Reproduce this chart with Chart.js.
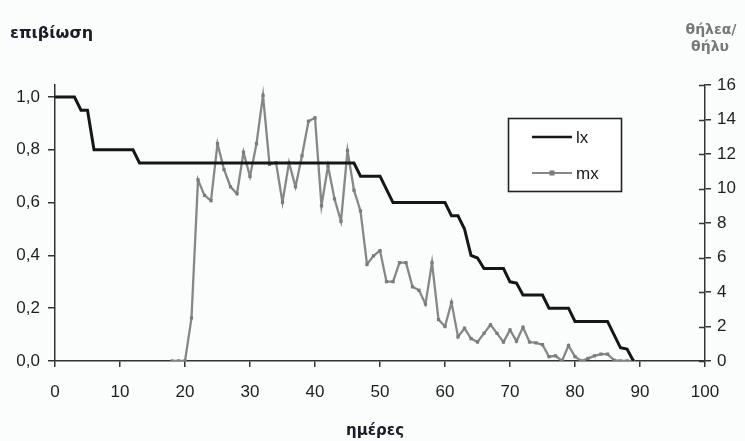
<!DOCTYPE html>
<html>
<head>
<meta charset="utf-8">
<script src="https://cdn.jsdelivr.net/npm/chart.js@4.4.1/dist/chart.umd.min.js"></script>
<style>
html,body{margin:0;padding:0;background:#fbfcfc;}
#wrap{position:relative;width:745px;height:441px;}
canvas{display:block;}
</style>
</head>
<body>
<div id="wrap"><canvas id="c" width="745" height="441"></canvas></div>
<script>
// ---- data ----
const lxDays = [0,1,2,3,4,5,6,7,8,9,10,11,12,13,14,15,16,17,18,19,20,21,22,23,24,25,26,27,28,29,30,31,32,33,34,35,36,37,38,39,40,41,42,43,44,45,46,47,48,49,50,51,52,53,54,55,56,57,58,59,60,61,62,63,64,65,66,67,68,69,70,71,72,73,74,75,76,77,78,79,80,81,82,83,84,85,86,87,88,89];
const lxValues = [1,1,1,1,0.95,0.95,0.8,0.8,0.8,0.8,0.8,0.8,0.8,
  0.75,0.75,0.75,0.75,0.75,0.75,0.75,0.75,0.75,0.75,0.75,0.75,0.75,0.75,0.75,0.75,0.75,0.75,0.75,0.75,0.75,0.75,0.75,0.75,0.75,0.75,0.75,0.75,0.75,0.75,0.75,0.75,0.75,0.75,
  0.7,0.7,0.7,0.7,0.65,0.6,0.6,0.6,0.6,0.6,0.6,0.6,0.6,0.6,0.55,0.55,0.5,0.4,0.39,0.35,0.35,0.35,0.35,0.3,0.295,0.25,0.25,0.25,0.25,0.2,0.2,0.2,0.2,0.15,0.15,0.15,0.15,0.15,0.15,0.1,0.05,0.045,0];
const mxDays = [18,19,20,21,22,23,24,25,26,27,28,29,30,31,32,33,34,35,36,37,38,39,40,41,42,43,44,45,46,47,48,49,50,51,52,53,54,55,56,57,58,59,60,61,62,63,64,65,66,67,68,69,70,71,72,73,74,75,76,77,78,79,80,81,82,83,84,85,86,87,88,89];
const mxValues = [0,0,0,2.5,10.5,9.6,9.3,12.6,11.1,10.1,9.7,12.1,10.7,12.6,15.4,11.4,11.5,9.2,11.5,10.1,11.9,13.9,14.1,9.0,11.3,9.4,8.1,12.2,9.9,8.7,5.6,6.1,6.4,4.6,4.6,5.7,5.7,4.3,4.1,3.3,5.7,2.4,2.0,3.4,1.4,1.9,1.3,1.1,1.6,2.1,1.6,1.1,1.8,1.15,1.95,1.1,1.05,0.95,0.25,0.3,0,0.9,0.25,0,0.15,0.3,0.4,0.4,0.05,0,0,0];
const leftTicks = [0,0.2,0.4,0.6,0.8,1.0];
const seriesNames = ['lx','mx'];
const leftTitle = 'επιβίωση';
const rightTitle = ['θήλεα/','θήλυ'];
const xTitle = 'ημέρες';

const AXIS = '#333333';
const TICKFONT = {family:'"Liberation Sans", Arial, sans-serif', size:17};

const deco = {
  id:'deco',
  afterDraw(chart){
    const c = chart.ctx;
    const a = chart.chartArea;
    const y2 = chart.scales.y2;
    c.save();
    // inner parts of the right axis ticks (they cross the axis)
    c.strokeStyle = AXIS; c.lineWidth = 1.5;
    y2.ticks.forEach(t=>{
      const py = Math.round(y2.getPixelForValue(t.value))+0.5;
      c.beginPath(); c.moveTo(a.right-6, py); c.lineTo(a.right, py); c.stroke();
    });
    // titles
    c.fillStyle = '#1c1c28';
    c.font = 'bold 16px "DejaVu Sans", sans-serif';
    c.textAlign = 'left'; c.textBaseline = 'alphabetic';
    c.fillText(leftTitle, 10, 38);
    c.font = 'bold 15px "DejaVu Sans", sans-serif';
    c.textAlign = 'center';
    c.fillText(xTitle, 375, 435);
    c.fillStyle = '#777777';
    c.font = 'bold 14px "DejaVu Sans", sans-serif';
    c.fillText(rightTitle[0], 711, 34);
    c.fillText(rightTitle[1], 710, 51);
    // legend box
    const lx0 = 508.5, ly0 = 118.5, lw = 113, lh = 73;
    c.fillStyle = '#ffffff';
    c.fillRect(lx0, ly0, lw, lh);
    c.strokeStyle = '#222'; c.lineWidth = 1.6;
    c.strokeRect(lx0, ly0, lw, lh);
    const ds = chart.data.datasets;
    c.strokeStyle = ds[0].borderColor; c.lineWidth = 2.6;
    c.beginPath(); c.moveTo(532, 137); c.lineTo(572, 137); c.stroke();
    c.strokeStyle = ds[1].borderColor; c.lineWidth = 2.2;
    c.beginPath(); c.moveTo(532, 173); c.lineTo(572, 173); c.stroke();
    c.fillStyle = ds[1].pointBackgroundColor;
    c.fillRect(549.5, 170.5, 5, 5);
    c.fillStyle = '#1a1a1a';
    c.font = '17px "Liberation Sans", Arial, sans-serif';
    c.textAlign = 'left'; c.textBaseline = 'middle';
    c.fillText(seriesNames[0], 576, 138);
    c.fillText(seriesNames[1], 576, 174);
    c.restore();
  }
};

new Chart(document.getElementById('c'), {
  type: 'line',
  data: {
    datasets: [
      {
        label: seriesNames[0],
        data: lxDays.map((d,i)=>({x:d, y:lxValues[i]})),
        yAxisID: 'y',
        borderColor: '#161616',
        borderWidth: 3,
        pointRadius: 0,
        tension: 0,
        order: 1
      },
      {
        label: seriesNames[1],
        data: mxDays.map((d,i)=>({x:d, y:mxValues[i]})),
        yAxisID: 'y2',
        borderColor: '#878787',
        borderWidth: 2.3,
        pointRadius: 2.3,
        pointStyle: 'rect',
        pointBackgroundColor: '#7b7b7b',
        pointBorderColor: '#7b7b7b',
        pointBorderWidth: 0,
        tension: 0,
        order: 2
      }
    ]
  },
  options: {
    responsive: false,
    animation: false,
    layout: {padding: {top: 85, left: 0, right: 0, bottom: 0}},
    plugins: {legend: {display: false}, tooltip: {enabled: false}},
    scales: {
      x: {
        type: 'linear', min: 0, max: 100,
        ticks: {stepSize: 10, color: '#1e1e1e', font: TICKFONT, padding: 15, maxRotation: 0},
        grid: {drawOnChartArea: false, tickLength: 6, color: AXIS, lineWidth: 1.5},
        border: {color: AXIS, width: 1.5},
        title: {display: false},
        afterFit(s){ s.height = 80; }
      },
      y: {
        position: 'left', min: 0, max: 1.0455,
        afterBuildTicks(s){ s.ticks = leftTicks.map(v=>({value:v})); },
        ticks: {color: '#1e1e1e', font: TICKFONT, padding: 8,
                callback: v => v.toFixed(1).replace('.', ',')},
        grid: {drawOnChartArea: false, tickLength: 7, color: AXIS, lineWidth: 1.5},
        border: {color: AXIS, width: 1.5},
        afterFit(s){ s.width = 55; }
      },
      y2: {
        position: 'right', min: 0, max: 16,
        ticks: {stepSize: 2, color: '#1e1e1e', font: TICKFONT, padding: 6},
        grid: {drawOnChartArea: false, tickLength: 6, color: AXIS, lineWidth: 1.5},
        border: {color: AXIS, width: 1.5},
        afterFit(s){ s.width = 40; }
      }
    }
  },
  plugins: [deco]
});
</script>
</body>
</html>
